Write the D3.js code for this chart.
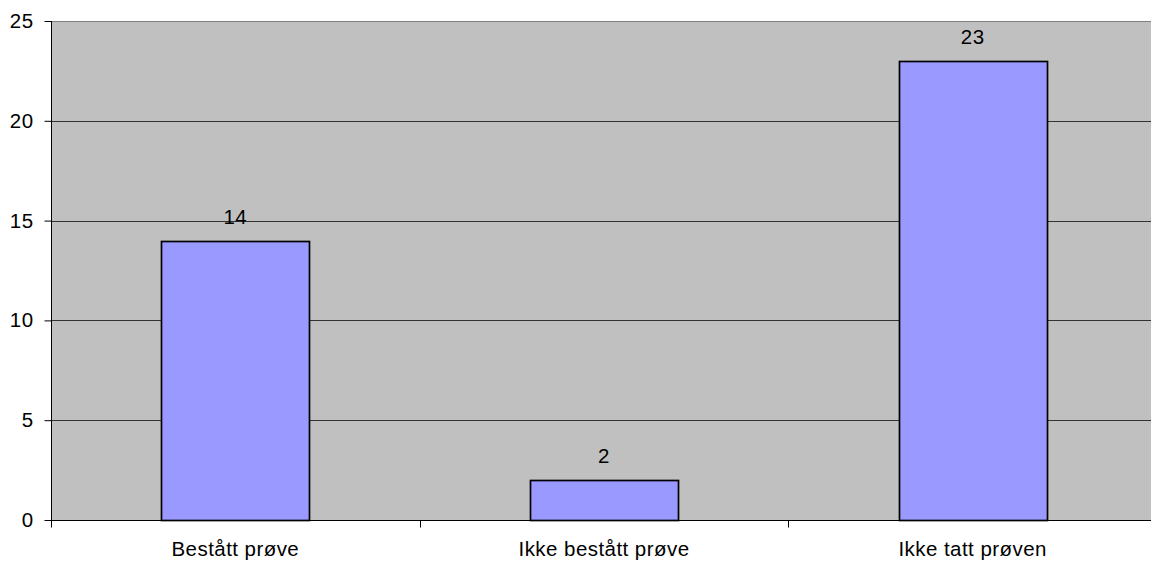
<!DOCTYPE html>
<html><head><meta charset="utf-8">
<script src="https://cdn.jsdelivr.net/npm/d3@7"></script>
<style>body{margin:0;background:#fff}svg{display:block}</style>
</head><body>
<script>
const categories = ["Bestått prøve", "Ikke bestått prøve", "Ikke tatt prøven"];
const values = [14, 2, 23];
const yTicks = [0, 5, 10, 15, 20, 25];

const FONT = '"Liberation Sans",Arial,sans-serif';
const FS = "20.5px";
const LS = "0.45px";
const W = 1151, H = 565;
const m = {left: 51, top: 21, bottom: 45};
const svg = d3.select("body").append("svg").attr("width", W).attr("height", H);
const x = d3.scaleBand().domain(categories).range([m.left, 1157]).paddingInner(0).paddingOuter(0);
const y = d3.scaleLinear().domain([0, 25]).range([H - m.bottom, m.top]);

svg.append("rect").attr("x", m.left).attr("y", m.top).attr("width", W - m.left).attr("height", y(0) - m.top).attr("fill", "#c0c0c0");
svg.append("line").attr("x1", m.left).attr("x2", W).attr("y1", m.top + 0.5).attr("y2", m.top + 0.5).attr("stroke", "#808080");

svg.selectAll(".grid").data(yTicks.filter(t => t > 0 && t < 25)).enter().append("line")
  .attr("x1", m.left).attr("x2", W).attr("y1", d => Math.round(y(d)) + 0.5).attr("y2", d => Math.round(y(d)) + 0.5)
  .attr("stroke", "#333").attr("stroke-width", 1);

const bw = x.bandwidth() * 0.402;
svg.selectAll(".bar").data(values).enter().append("rect")
  .attr("x", (d, i) => Math.round(x(categories[i]) + x.bandwidth() / 2 - bw / 2) + 0.5)
  .attr("y", d => Math.round(y(d)) + 0.5)
  .attr("width", Math.round(bw))
  .attr("height", d => Math.round(y(0)) - Math.round(y(d)))
  .attr("fill", "#9999ff").attr("stroke", "#000").attr("stroke-width", 1.7);

svg.selectAll(".lbl").data(values).enter().append("text")
  .attr("x", (d, i) => x(categories[i]) + x.bandwidth() / 2)
  .attr("y", d => y(d) - 17).attr("text-anchor", "middle")
  .style("font-family", FONT).style("font-size", FS).style("letter-spacing", LS).attr("fill", "#000").text(d => d);

const yAxis = d3.axisLeft(y).tickValues(yTicks).tickSize(7).tickPadding(11);
const gy = svg.append("g").attr("transform", `translate(${m.left + 0.5},0)`).call(yAxis);
gy.select(".domain").attr("d", `M0,${m.top}V${y(0)}`).attr("stroke", "#000");
gy.selectAll("text").style("font-size", FS).style("font-family", FONT).style("letter-spacing", LS).attr("fill", "#000");

const xAxis = d3.axisBottom(x).tickSize(0).tickPadding(21);
const gx = svg.append("g").attr("transform", `translate(0,${Math.round(y(0)) + 0.5})`).call(xAxis);
gx.select(".domain").attr("d", `M${m.left},0H${W}`).attr("stroke", "#000");
gx.selectAll("text").style("font-size", FS).style("font-family", FONT).style("letter-spacing", LS).attr("fill", "#000");
gx.selectAll(".sep").data(categories).enter().append("line")
  .attr("x1", d => Math.round(x(d)) + 0.5).attr("x2", d => Math.round(x(d)) + 0.5)
  .attr("y1", 0).attr("y2", 7).attr("stroke", "#000");
</script>
</body></html>
